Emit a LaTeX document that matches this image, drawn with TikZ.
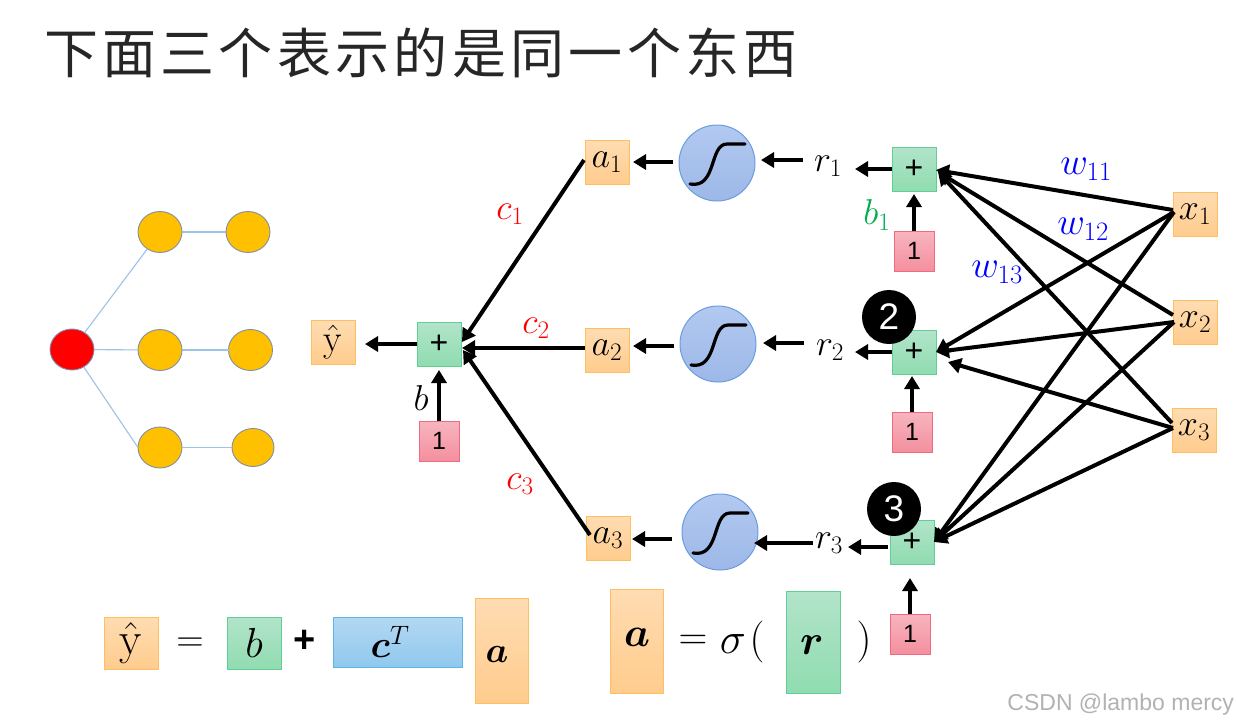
\RequirePackage{fix-cm}
\documentclass[tikz,border=0pt]{standalone}
\usepackage{amsmath}
\usepackage{bm}
\usepackage{fontspec}
\usetikzlibrary{arrows.meta,calc,shapes.geometric}
\newfontfamily\cjktitle[LetterSpace=8]{Noto Sans CJK SC}
\newfontfamily\liber{Liberation Sans}
\newcommand{\fs}[1]{\fontsize{#1}{#1}\selectfont}
\definecolor{ttl}{HTML}{262626}
\definecolor{bluew}{HTML}{0000FF}
\definecolor{greenb}{HTML}{00B050}
\definecolor{linkb}{HTML}{9DC3E6}
\definecolor{boxOline}{HTML}{FFBE5F}
\definecolor{boxOt}{HTML}{FFDCB2}
\definecolor{boxOb}{HTML}{FFCC8D}
\definecolor{boxGline}{HTML}{5FCF95}
\definecolor{boxGt}{HTML}{B2E4CA}
\definecolor{boxGb}{HTML}{90DCB0}
\definecolor{boxPline}{HTML}{F06A80}
\definecolor{boxPt}{HTML}{F7B5BF}
\definecolor{boxPb}{HTML}{F48F9E}
\definecolor{boxBline}{HTML}{5DB5E8}
\definecolor{boxBt}{HTML}{B3D8F2}
\definecolor{boxBb}{HTML}{90C8EE}
\definecolor{sigline}{HTML}{6C9CE0}
\definecolor{sigt}{HTML}{B2C9F0}
\definecolor{sigb}{HTML}{9DB8E8}
\definecolor{dotline}{HTML}{7F8FA9}
\definecolor{dotfill}{HTML}{FFC000}
\tikzset{
  x=1pt,y=-1pt,
  every node/.append style={inner sep=0pt,outer sep=0pt},
  orangebox/.style={rectangle,draw=boxOline,line width=1pt,top color=boxOt,bottom color=boxOb},
  greenbox/.style={rectangle,draw=boxGline,line width=1pt,top color=boxGt,bottom color=boxGb},
  pinkbox/.style={rectangle,draw=boxPline,line width=1pt,top color=boxPt,bottom color=boxPb,minimum width=40pt,minimum height=40pt,font=\liber\fs{25}},
  bluebox/.style={rectangle,draw=boxBline,line width=1pt,top color=boxBt,bottom color=boxBb},
  sq/.style={minimum width=44pt,minimum height=44pt},
  sigcirc/.style={circle,draw=sigline,line width=1pt,top color=sigt,bottom color=sigb,minimum size=76pt},
  plusbox/.style={greenbox,sq,font=\liber\fs{32}},
  orangedot/.style={ellipse,draw=dotline,line width=0.9pt,fill=dotfill},
  badge/.style={circle,fill=black,text=white,minimum size=54pt,font=\liber\fs{37}},
  arr/.style={line width=4pt,-{Triangle[length=13pt,width=15pt]}},
  link/.style={draw=linkb,line width=1.1pt},
  lab/.style={font=\fs{36}},
  wlab/.style={font=\fs{38},text=bluew},
}
\begin{document}
\begin{tikzpicture}
\useasboundingbox (0,0) rectangle (1237,724);
\fill[white] (0,0) rectangle (1237,724);

% title
\node[anchor=west,text=ttl,font=\cjktitle\fs{54}] (title) at (44,53) {下面三个表示的是同一个东西};

% tree
\node[ellipse,draw=dotline,line width=0.9pt,fill=red,minimum width=44pt,minimum height=41pt] (root) at (72,349.5) {};
\node[orangedot,minimum width=44pt,minimum height=41pt] (t1a) at (160,232) {};
\node[orangedot,minimum width=44pt,minimum height=41pt] (t1b) at (248,232) {};
\node[orangedot,minimum width=44pt,minimum height=41pt] (t2a) at (160,350) {};
\node[orangedot,minimum width=44pt,minimum height=41pt] (t2b) at (250.5,350) {};
\node[orangedot,minimum width=44pt,minimum height=41pt] (t3a) at (160,447.5) {};
\node[orangedot,minimum width=42pt,minimum height=38pt] (t3b) at (253,447.5) {};
\draw[link] (root) -- (t1a);
\draw[link] (root) -- (t2a);
\draw[link] (root) -- (t3a.west);
\draw[link] (t1a) -- (t1b);
\draw[link] (t2a) -- (t2b);
\draw[link] (t3a) -- (t3b);

% output stage
\node[orangebox,sq,font=\fs{38}] (yh) at (333,342) {$\hat{\mathrm{y}}$};
\node[plusbox] (psum) at (439,344) {+};
\node[pinkbox] (onesum) at (439,441) {1};
\node[lab] (blab) at (421,398) {$b$};

% activations
\node[orangebox,sq,lab] (a1) at (607,162) {$a_1$};
\node[orangebox,sq,lab] (a2) at (607,350) {$a_2$};
\node[orangebox,sq,lab] (a3) at (608,538) {$a_3$};
\node[sigcirc] (s1) at (717,163) {};
\node[sigcirc] (s2) at (718,344) {};
\node[sigcirc] (s3) at (720,532) {};
\foreach \s in {s1,s2,s3}{
  \begin{scope}[shift={(\s.center)}]
    \draw[line width=3.2pt,line cap=round] (-27,21) .. controls (0,26) and (-8,-19) .. (10,-19) -- (28,-19);
  \end{scope}
}
\node[lab] (r1) at (828,166) {$r_1$};
\node[lab] (r2) at (830,350) {$r_2$};
\node[lab] (r3) at (829,543) {$r_3$};
\node[plusbox] (p1) at (914,169) {+};
\node[plusbox] (p2) at (914,352) {+};
\node[plusbox] (p3) at (912,542) {+};
\node[pinkbox] (one1) at (914,251) {1};
\node[pinkbox] (one2) at (912,432) {1};
\node[pinkbox] (one3) at (910,634) {1};
\node[badge] (b2) at (889,317) {2};
\node[badge] (b3) at (894,509) {3};
\node[orangebox,sq,lab] (x1) at (1195,214) {$x_1$};
\node[orangebox,sq,lab] (x2) at (1195,322) {$x_2$};
\node[orangebox,sq,lab] (x3) at (1194,430) {$x_3$};

% connectors
\draw[arr] (psum.west) -- ([xshift=-52pt]psum.west);
\draw[arr] (onesum.north) -- ([yshift=-4pt]psum.south);
\draw[arr] ([shift={(-1pt,2pt)}]a1.west) -- ([shift={(1pt,2pt)}]psum.east);
\draw[arr] ([yshift=2pt]a2.west) -- ([shift={(1pt,-4pt)}]psum.east);
\draw[arr] ([shift={(4pt,3pt)}]a3.west) -- ([shift={(2pt,-6pt)}]psum.east);

\draw[arr] ([shift={(-6pt,1pt)}]s1.west) -- ([xshift=4pt]a1.east);
\draw[arr] ([shift={(-6pt,-2pt)}]s2.west) -- ([shift={(4pt,4pt)}]a2.east);
\draw[arr] ([shift={(-10pt,-7pt)}]s3.west) -- ([shift={(2pt,-1pt)}]a3.east);
\draw[arr] ([shift={(-25pt,6pt)}]r1.center) -- ([shift={(6pt,3pt)}]s1.east);
\draw[arr] ([shift={(-26pt,7pt)}]r2.center) -- ([shift={(7pt,1pt)}]s2.east);
\draw[arr] ([xshift=-16pt]r3.center) -- ([shift={(-4pt,-11pt)}]s3.east);
\draw[arr] (p1.west) -- ([xshift=-37pt]p1.west);
\draw[arr] (p2.west) -- ([xshift=-37pt]p2.west);
\draw[arr] ([shift={(-2pt,-5pt)}]p3.west) -- ([shift={(-42pt,-5pt)}]p3.west);
\draw[arr] (one1.north) -- ([yshift=-3pt]p1.south);
\draw[arr] (one2.north) -- ([shift={(-2pt,-2pt)}]p2.south);
\draw[arr] (one3.north) -- ([shift={(-2pt,-14pt)}]p3.south);

\draw[arr] ([yshift=4pt]x1.west) -- ([yshift=-1pt]p1.east);
\draw[arr] ([yshift=7pt]x2.west) -- ([shift={(2pt,-3pt)}]p1.east);
\draw[arr] ([yshift=7pt]x3.west) -- ([shift={(2pt,-3pt)}]p1.east);
\draw[arr] ([shift={(1pt,2pt)}]x1.west) -- (p2.east);
\draw[arr] ([shift={(1pt,0pt)}]x2.west) -- (p2.east);
\draw[arr] ([shift={(1pt,2pt)}]x3.west) -- ([shift={(12pt,-10pt)}]p2.east);
\draw[arr] ([shift={(1pt,2pt)}]x1.west) -- (p3.east);
\draw[arr] ([shift={(1pt,0pt)}]x2.west) -- (p3.east);
\draw[arr] ([shift={(1pt,2pt)}]x3.west) -- (p3.east);

% weight labels
\node[lab,text=red] (c1) at (510,214) {$c_1$};
\node[lab,text=red] (c2) at (536,328) {$c_2$};
\node[lab,text=red] (c3) at (520,484) {$c_3$};
\node[wlab] (w11) at (1086,169) {$w_{11}$};
\node[wlab] (w12) at (1083,229) {$w_{12}$};
\node[wlab] (w13) at (997,272) {$w_{13}$};
\node[lab,text=greenb] (b1) at (877,215) {$b_1$};

% bottom equation
\node[orangebox,minimum width=54pt,minimum height=52pt,font=\fs{46}] (eyh) at (131,643) {$\hat{\mathrm{y}}$};
\node[font=\fs{38}] (eq1) at (190,645) {$=$};
\node[greenbox,minimum width=54pt,minimum height=52pt,font=\fs{42}] (eb) at (254,643) {$b$};
\node[font=\liber\bfseries\fs{38}] (epl) at (305,641) {+};
\node[bluebox,minimum width=129pt,minimum height=50pt] (ec) at (397.5,642) {};
\node[font=\fs{38}] (ectxt) at (390,642) {$\bm{c}^{T}$};
\node[orangebox,minimum width=53pt,minimum height=105pt] (ea) at (501.5,650.5) {};
\node[font=\fs{36}] (eatxt) at (497,654) {$\bm{a}$};
\node[orangebox,minimum width=53pt,minimum height=104pt] (fa) at (636.5,641) {};
\node[font=\fs{41}] (fatxt) at (637,637) {$\bm{a}$};
\node[font=\fs{40}] (eq2) at (693,642) {$=$};
\node[font=\fs{44}] (sig) at (733,644) {$\sigma$};
\node[font=\fs{42}] (lp) at (757,642) {$($};
\node[greenbox,minimum width=54pt,minimum height=102pt] (fr) at (813,642) {};
\node[font=\fs{42}] (frtxt) at (812,645) {$\bm{r}$};
\node[font=\fs{42}] (rp) at (864,642) {$)$};

\node[anchor=east,text=black!30,font=\liber\fs{23}] (wm) at (1234,705) {CSDN @lambo mercy};
\end{tikzpicture}
\end{document}
